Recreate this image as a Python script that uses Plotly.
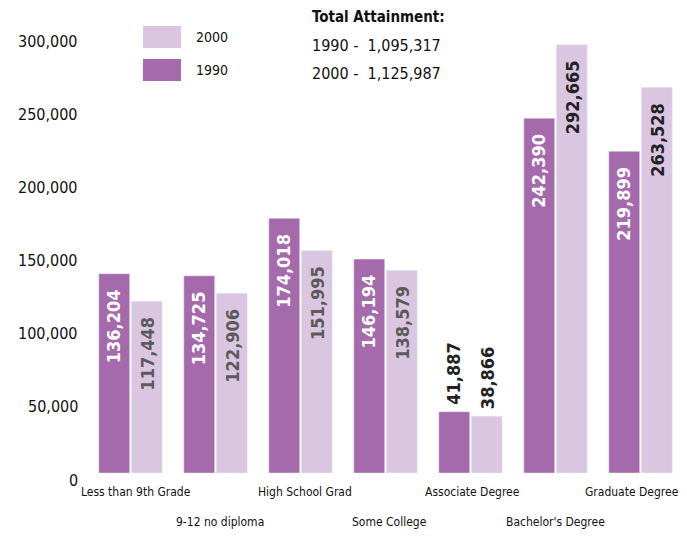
import plotly.graph_objects as go

categories = ["Less than 9th Grade", "9-12 no diploma", "High School Grad", "Some College",
              "Associate Degree", "Bachelor's Degree", "Graduate Degree"]
values_1990 = [136204, 134725, 174018, 146194, 41887, 242390, 219899]
values_2000 = [117448, 122906, 151995, 138579, 38866, 292665, 263528]
tick_values = [0, 50000, 100000, 150000, 200000, 250000, 300000]
tick_labels = ["0", "50,000", "100,000", "150,000", "200,000", "250,000", "300,000"]
totals = [("1990", "1,095,317"), ("2000", "1,125,987")]

C1990 = "#a46aac"
C2000 = "#dbc6e1"
FONT = "DejaVu Sans Condensed, Liberation Sans Narrow, sans-serif"

fig = go.Figure()
fig.add_trace(go.Bar(x=categories, y=values_1990, name="1990", marker_color=C1990))
fig.add_trace(go.Bar(x=categories, y=values_2000, name="2000", marker_color=C2000))

ann = []
# value labels
for i, cat in enumerate(categories):
    for v, shift, inside_col in ((values_1990[i], -17, "white"),
                                 (values_2000[i], 17, "#5a5a5a" if i < 4 else "#222222")):
        if v > 60000:
            ann.append(dict(x=cat, y=v, xref="x", yref="y", text=f"{v:,}", textangle=-90,
                            showarrow=False, xshift=shift, yanchor="top", yshift=-14,
                            font=dict(family=FONT, size=18, color=inside_col, weight="bold")))
        else:
            ann.append(dict(x=cat, y=v, xref="x", yref="y", text=f"{v:,}", textangle=-90,
                            showarrow=False, xshift=shift, yanchor="bottom", yshift=5,
                            font=dict(family=FONT, size=18, color="#222222", weight="bold")))
# category labels (staggered)
xshifts = [5, 4, 4, 4, 2, 0, -9]
for i, cat in enumerate(categories):
    ann.append(dict(x=cat, y=0, xref="x", yref="paper", text=cat, showarrow=False,
                    yanchor="top", yshift=-10 if i % 2 == 0 else -40, xshift=xshifts[i],
                    font=dict(family=FONT, size=12, color="#111111")))
# y tick labels
for tv, tl in zip(tick_values, tick_labels):
    ann.append(dict(x=0, y=tv, xref="paper", yref="y", text=tl, showarrow=False,
                    xanchor="right", yanchor="middle", xshift=-8, yshift=-7,
                    font=dict(family=FONT, size=16, color="#111111")))
# legend
shapes = []
for name, col, y0, y1, yt in (("2000", C2000, 0.968, 1.018, 0.993), ("1990", C1990, 0.893, 0.943, 0.918)):
    shapes.append(dict(type="rect", xref="paper", yref="paper", x0=0.0924, x1=0.1563,
                       y0=y0, y1=y1, fillcolor=col, line_width=0))
    ann.append(dict(x=0.178, y=yt, xref="paper", yref="paper", text=name, showarrow=False,
                    xanchor="left", yanchor="middle",
                    font=dict(family=FONT, size=14, color="#111111")))
# totals
ann.append(dict(x=0.373, y=1.0387, xref="paper", yref="paper", text="<b>Total Attainment:</b>",
                showarrow=False, xanchor="left", yanchor="middle",
                font=dict(family=FONT, size=15, color="#111111")))
for (yr, tot), yy in zip(totals, (0.9727, 0.9089)):
    ann.append(dict(x=0.373, y=yy, xref="paper", yref="paper", text=f"{yr} -  {tot}",
                    showarrow=False, xanchor="left", yanchor="middle",
                    font=dict(family=FONT, size=16, color="#111111")))

fig.update_layout(
    width=679, height=531,
    margin=dict(l=80, r=4, t=26, b=66),
    paper_bgcolor="white", plot_bgcolor="white",
    barmode="group", bargap=0.235, bargroupgap=0.05,
    showlegend=False,
    xaxis=dict(range=[-0.5, 6.5], showticklabels=False, showgrid=False, zeroline=False, showline=False),
    yaxis=dict(range=[0, 300000], showticklabels=False, showgrid=False, zeroline=False, showline=False),
    annotations=ann, shapes=shapes,
)
fig.write_html("out.html")
